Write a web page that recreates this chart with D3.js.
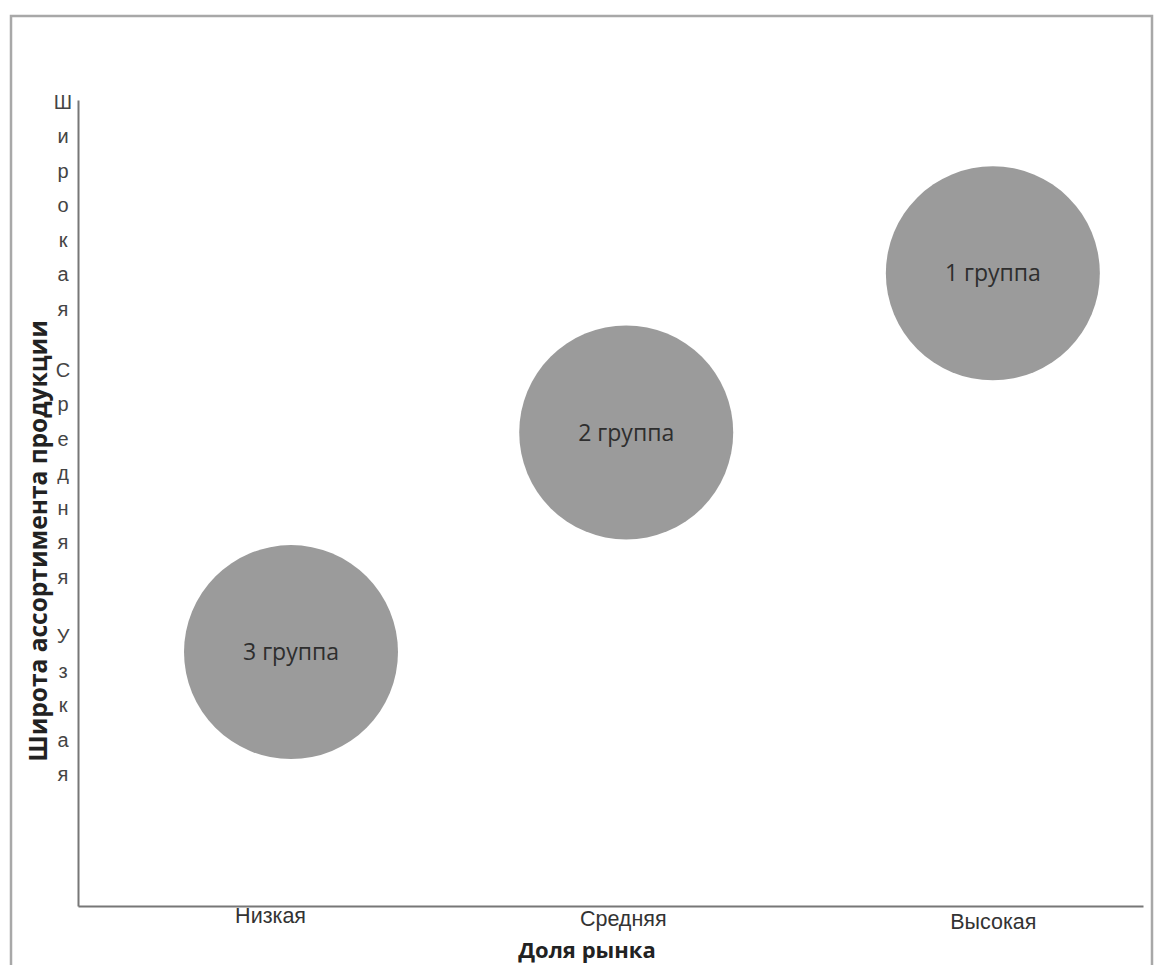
<!DOCTYPE html>
<html>
<head>
<meta charset="utf-8">
<script src="https://cdn.jsdelivr.net/npm/d3@7"></script>
<style>
  body { margin: 0; background: #fff; }
  svg { font-family: "Open Sans", "Noto Sans", sans-serif; }
</style>
</head>
<body>
<div id="chart"></div>
<script>
// Bubble data (market share vs. assortment width)
const groups = ["1 группа", "2 группа", "3 группа"];
const shareValues = [3.03, 1.98, 1.02];
const widthValues = [3.14, 2.35, 1.26];
const sizeValues = [1, 1, 1];

// Axis tick labels and their positions
const xTickLabels = ["Низкая", "Средняя", "Высокая"];
const xTickValues = [0.96, 1.97, 3.03];
const yTickLabels = ["Узкая", "Средняя", "Широкая"];
const yTickValues = [1.0, 2.15, 3.48];

const width = 1161;
const height = 965;
const margin = { top: 100, right: 18, bottom: 59, left: 78 };

const svg = d3.select("#chart")
    .append("svg")
    .attr("width", width)
    .attr("height", height);

// outer chart frame
svg.append("path")
    .attr("d", `M11,${height} V16 H${width - 9} V${height}`)
    .attr("fill", "none")
    .attr("stroke", "#a8a8a8")
    .attr("stroke-width", 2.5);

const x = d3.scaleLinear()
    .domain([0.41, 3.46])
    .range([margin.left, width - margin.right]);

const y = d3.scaleLinear()
    .domain([0, 4])
    .range([height - margin.bottom, margin.top]);

const r = d3.scaleSqrt()
    .domain([0, 1])
    .range([0, 107]);

// axes
const xAxis = d3.axisBottom(x)
    .tickValues(xTickValues)
    .tickSize(0)
    .tickFormat((d, i) => xTickLabels[i]);

const xAxisGroup = svg.append("g")
    .attr("transform", `translate(0, ${height - margin.bottom})`)
    .call(xAxis);
xAxisGroup.select(".domain").attr("stroke", "#777").attr("stroke-width", 2);
xAxisGroup.selectAll("text")
    .attr("dy", "0.65em")
    .attr("font-size", 21.5)
    .attr("fill", "#333")
    .attr("transform", (d, i) => `translate(0, ${i * 3})`);

const yAxis = d3.axisLeft(y)
    .tickValues(yTickValues)
    .tickSize(0)
    .tickFormat("");

const yAxisGroup = svg.append("g")
    .attr("transform", `translate(${margin.left}, 0)`)
    .call(yAxis);
yAxisGroup.select(".domain").attr("stroke", "#777").attr("stroke-width", 2);

// wrapped y tick labels: one letter per line
const letterStep = 34.5;
yAxisGroup.selectAll(".tick").each(function(d, i) {
    const letters = Array.from(yTickLabels[i]);
    const t = d3.select(this).append("text")
        .attr("fill", "#444")
        .attr("font-size", 20)
        .attr("text-anchor", "middle");
    letters.forEach((ch, k) => {
        t.append("tspan")
            .attr("x", -15)
            .attr("y", (k - (letters.length - 1) / 2) * letterStep)
            .attr("dy", "0.35em")
            .text(ch);
    });
});

// bubbles
const bubbles = svg.append("g")
    .selectAll("g")
    .data(groups)
    .join("g")
    .attr("transform", (d, i) => `translate(${x(shareValues[i])}, ${y(widthValues[i])})`);

bubbles.append("circle")
    .attr("r", (d, i) => r(sizeValues[i]))
    .attr("fill", "#9b9b9b");

bubbles.append("text")
    .attr("text-anchor", "middle")
    .attr("dy", "0.35em")
    .attr("font-size", 23)
    .attr("fill", "#2e2e2e")
    .text(d => d);

// axis titles
svg.append("text")
    .attr("x", 587)
    .attr("y", 958)
    .attr("text-anchor", "middle")
    .attr("font-size", 22)
    .attr("font-weight", "bold")
    .attr("fill", "#222")
    .text("Доля рынка");

svg.append("text")
    .attr("transform", "translate(38, 541) rotate(-90)")
    .attr("text-anchor", "middle")
    .attr("dy", "0.35em")
    .attr("font-size", 24.5)
    .attr("font-weight", "bold")
    .attr("fill", "#222")
    .text("Широта ассортимента продукции");
</script>
</body>
</html>
